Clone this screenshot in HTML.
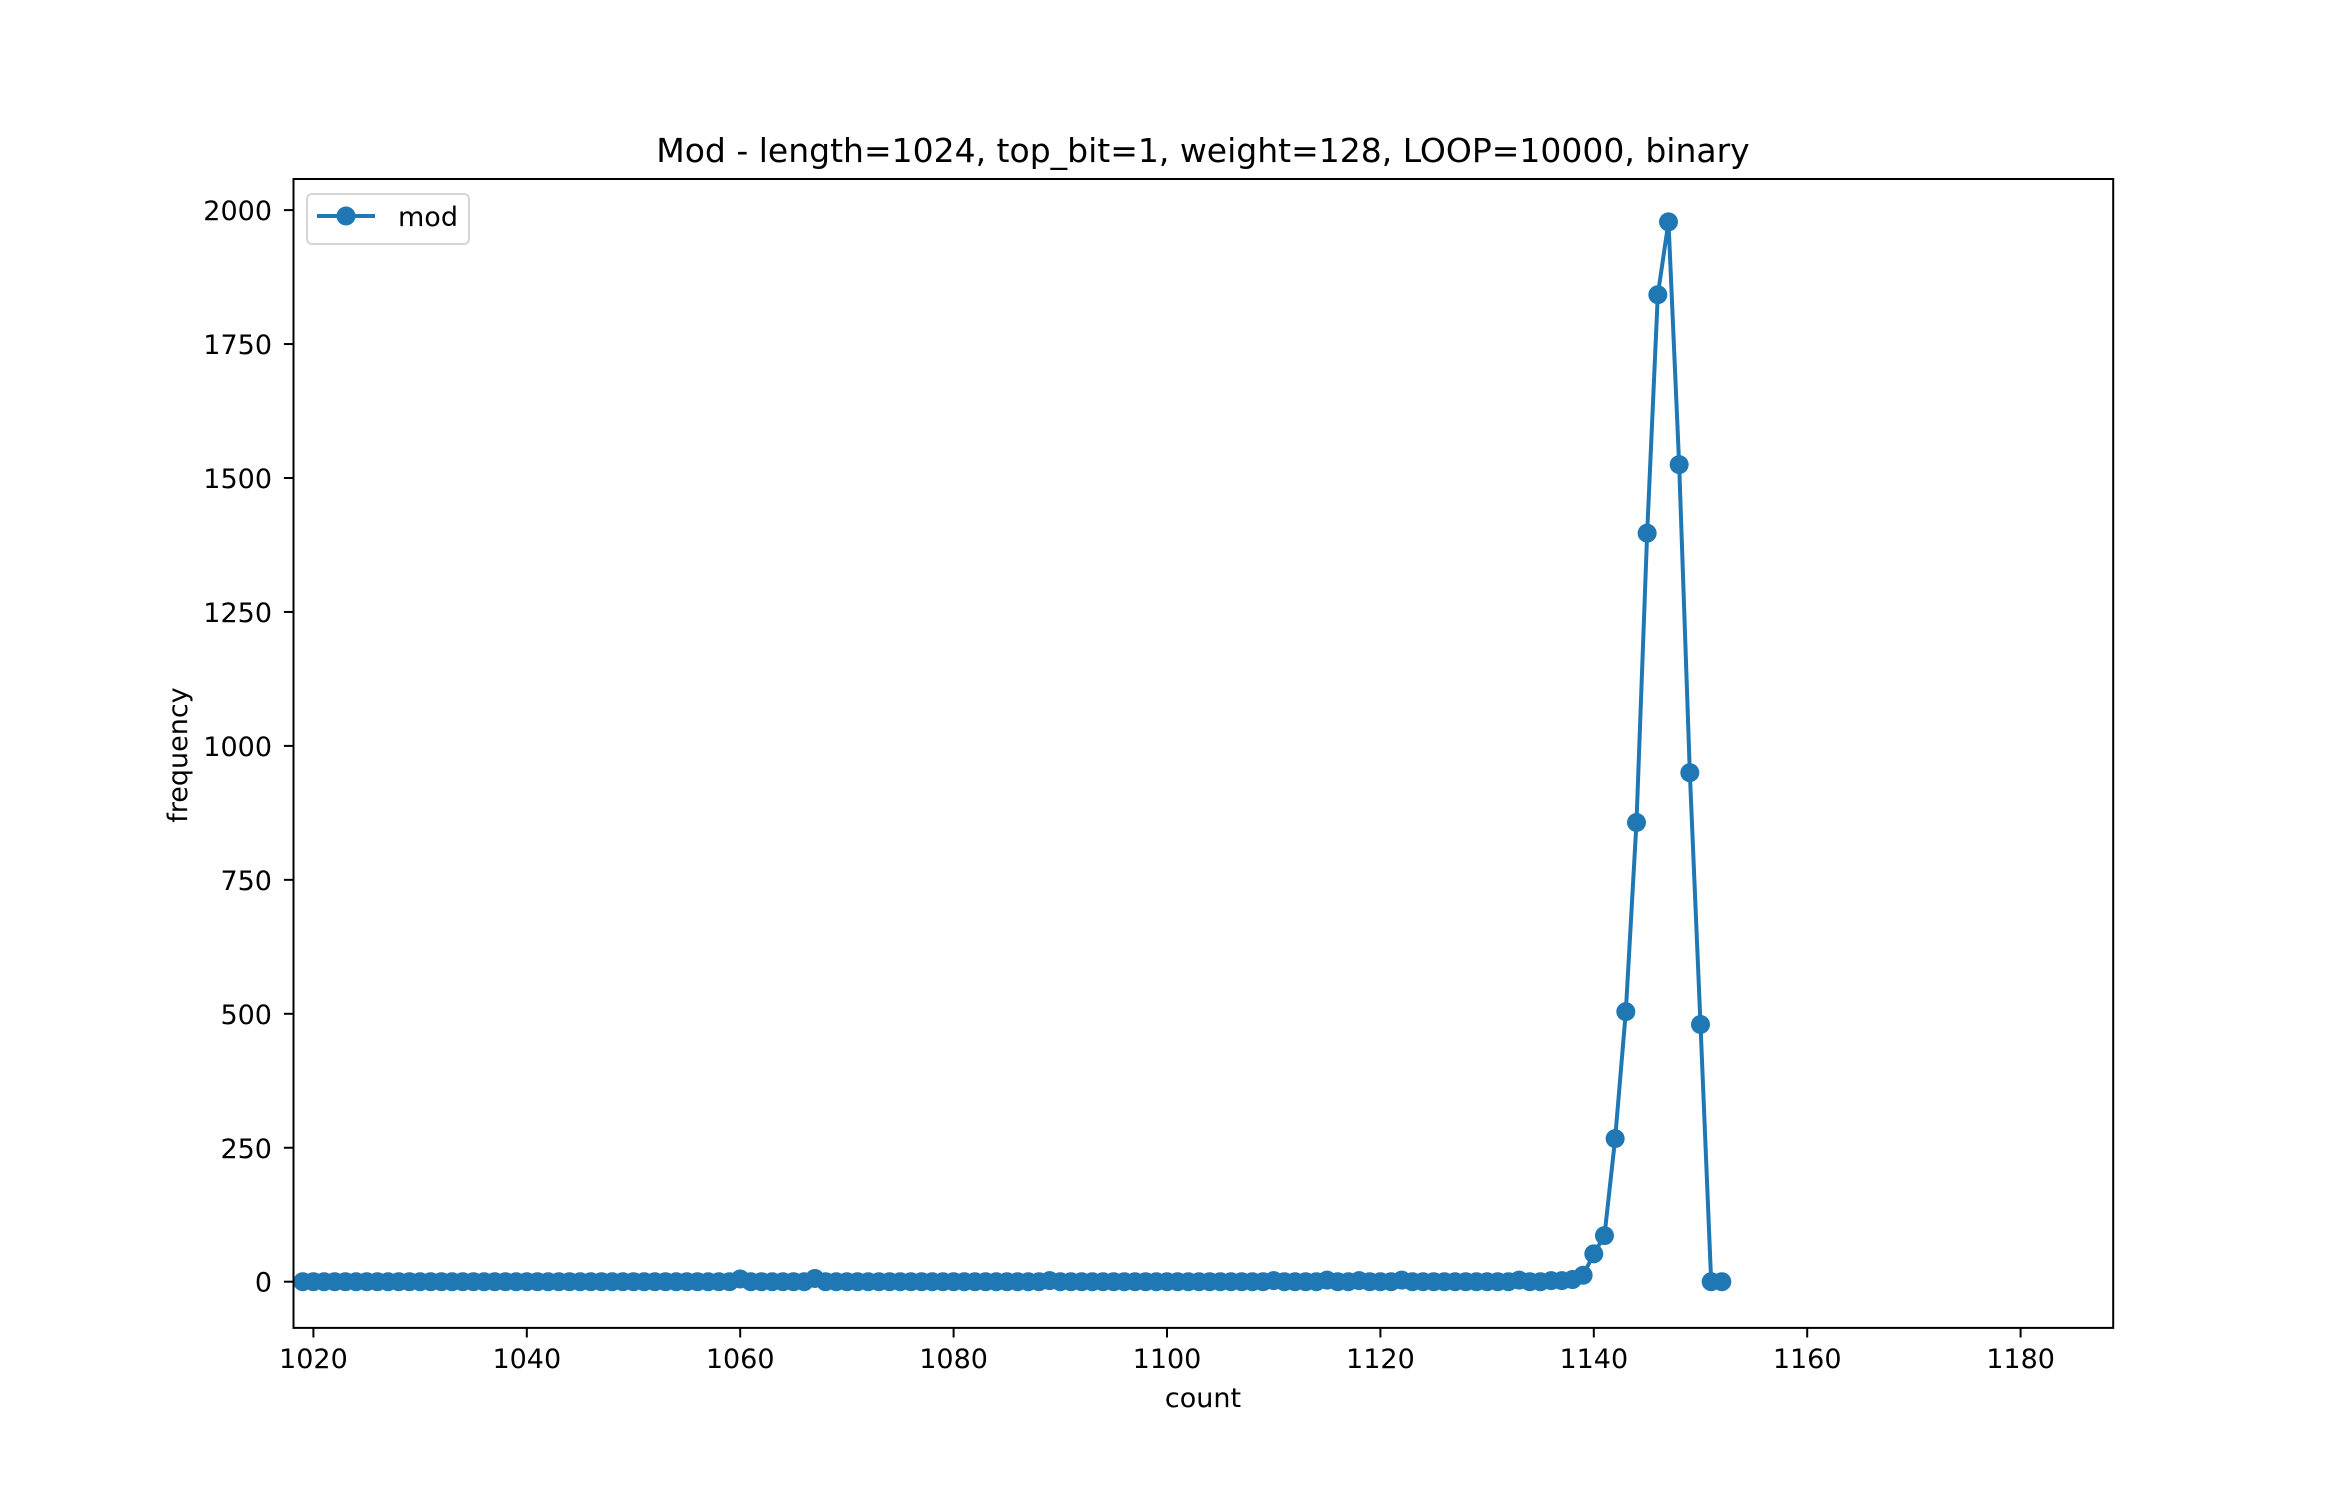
<!DOCTYPE html>
<html><head><meta charset="utf-8"><style>
html,body{margin:0;padding:0;background:#fff}
svg{display:block}
text{font-family:"DejaVu Sans","Liberation Sans",sans-serif;fill:#000}
</style></head><body>
<svg id="chart" width="2348" height="1492" viewBox="0 0 2348 1492" xmlns="http://www.w3.org/2000/svg">
<rect width="2348" height="1492" fill="#fff"/>
<text x="1203" y="162" font-size="33" text-anchor="middle">Mod - length=1024, top_bit=1, weight=128, LOOP=10000, binary</text>
<g id="plot"></g>
<rect x="293.5" y="179" width="1819.7" height="1148.9" fill="none" stroke="#000" stroke-width="2"/>
<text x="1203" y="1407" font-size="27" text-anchor="middle">count</text>
<text transform="translate(187,755) rotate(-90)" font-size="27" text-anchor="middle">frequency</text>
<g>
<rect x="307" y="194" width="162" height="50" rx="5" fill="#fff" fill-opacity="0.8" stroke="#d6d6d6" stroke-width="2"/>
<line x1="317" y1="216" x2="375" y2="216" stroke="#1f77b4" stroke-width="4"/>
<circle cx="346" cy="216" r="9.5" fill="#1f77b4"/>
<text x="398" y="226" font-size="27">mod</text>
</g>
</svg>
<script>
const counts = [];
for (let c = 1019; c <= 1152; c++) counts.push(c);
const smallValues = {1060:5,1067:6,1089:2,1110:2,1115:3,1118:2,1122:3,1133:3,1136:2,1137:2,1138:4,1139:12,1140:52,1141:86,1142:267,1143:504,1144:857,1145:1397,1146:1842,1147:1978,1148:1525,1149:950,1150:480,1151:0,1152:0};
const frequencies = counts.map(c => smallValues[c] !== undefined ? smallValues[c] : 0);
const xTicks = [1020,1040,1060,1080,1100,1120,1140,1160,1180];
const yTicks = [0,250,500,750,1000,1250,1500,1750,2000];

const NS = "http://www.w3.org/2000/svg";
const xScale = v => 313.4 + (v - 1020) * 10.67;
const yScale = v => 1281.7 - v * 0.5358;
const plot = document.getElementById('plot');
function mk(tag, attrs){const e=document.createElementNS(NS,tag);for(const k in attrs)e.setAttribute(k,attrs[k]);return e;}

xTicks.forEach(t=>{
  const x=xScale(t);
  const l=mk('line',{x1:x,y1:1327.9,x2:x,y2:1337.5,stroke:'#000','stroke-width':2});
  
  
  plot.appendChild(l);
  const tx=mk('text',{x:x,y:1368,'font-size':27,'text-anchor':'middle'});
  tx.textContent=t;
  
  
  plot.appendChild(tx);
});
yTicks.forEach(t=>{
  const y=yScale(t);
  const l=mk('line',{x1:283.9,y1:y,x2:293.5,y2:y,stroke:'#000','stroke-width':2});
  
  
  plot.appendChild(l);
  const tx=mk('text',{x:272,y:y+10,'font-size':27,'text-anchor':'end'});
  tx.textContent=t;
  
  
  plot.appendChild(tx);
});
const pts=counts.map((c,i)=>xScale(c).toFixed(2)+','+yScale(frequencies[i]).toFixed(2)).join(' ');
const line=mk('polyline',{points:pts,fill:'none',stroke:'#1f77b4','stroke-width':4,'stroke-linejoin':'round'});


plot.appendChild(line);
counts.forEach((c,i)=>{
  const p=mk('circle',{cx:xScale(c),cy:yScale(frequencies[i]),r:9.5,fill:'#1f77b4'});
  
  
  plot.appendChild(p);
});
</script>
</body></html>
